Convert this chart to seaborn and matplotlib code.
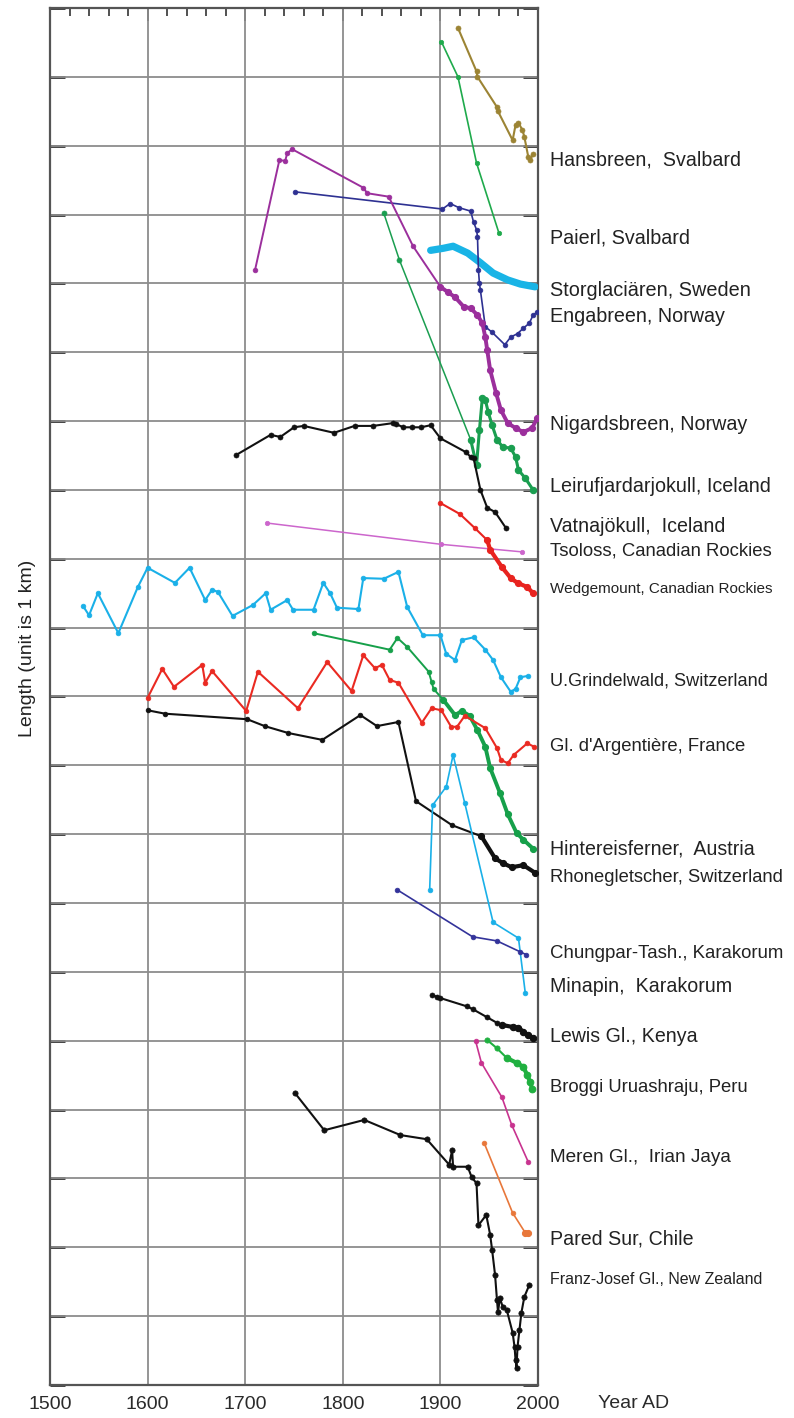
import matplotlib
matplotlib.use("Agg")
import matplotlib.pyplot as plt
import seaborn as sns
import pandas as pd
from matplotlib.ticker import MultipleLocator

# ---------------- data (year AD, length in km, stacked offsets) ----------------
hansbreen_yr = [1918, 1937, 1938, 1958, 1959, 1974, 1977, 1980, 1984, 1986, 1990, 1992, 1995]
hansbreen_km = [19.71, 19.08, 19.00, 18.56, 18.50, 18.08, 18.30, 18.33, 18.23, 18.13, 17.84, 17.79, 17.88]

paierl_yr = [1901, 1918, 1937, 1960]
paierl_km = [19.51, 19.00, 17.75, 16.73]

storglac_yr = [1890, 1903, 1913, 1928, 1941, 1954, 1969, 1982, 1997]
storglac_km = [16.48, 16.51, 16.54, 16.44, 16.30, 16.15, 16.05, 15.99, 15.95]

engabreen_yr = [1751, 1902, 1910, 1919, 1931, 1934, 1937, 1938, 1939, 1940, 1941, 1946, 1953,
                1966, 1972, 1979, 1985, 1991, 1995, 1999]
engabreen_km = [17.33, 17.08, 17.16, 17.10, 17.05, 16.89, 16.78, 16.68, 16.19, 16.00, 15.90, 15.37,
                15.29, 15.11, 15.22, 15.27, 15.35, 15.42, 15.54, 15.58]

nigards_yr = [1710, 1735, 1741, 1743, 1748, 1821, 1825, 1847, 1872, 1900, 1908, 1915, 1924, 1931,
              1938, 1943, 1946, 1948, 1951, 1957, 1962, 1969, 1977, 1985, 1994, 1999]
nigards_km = [16.19, 17.79, 17.78, 17.89, 17.95, 17.39, 17.31, 17.26, 16.54, 15.95, 15.87, 15.80,
              15.66, 15.64, 15.54, 15.42, 15.22, 15.03, 14.74, 14.41, 14.16, 13.97, 13.90, 13.84,
              13.90, 14.04]

leiru_yr = [1842, 1858, 1931, 1937, 1940, 1943, 1946, 1949, 1953, 1958, 1964, 1972, 1977, 1980, 1987, 1995]
leiru_km = [17.02, 16.34, 13.73, 13.36, 13.87, 14.34, 14.31, 14.13, 13.94, 13.73, 13.62, 13.61,
            13.48, 13.29, 13.17, 13.00]

vatna_yr = [1691, 1726, 1736, 1750, 1760, 1791, 1812, 1831, 1851, 1854, 1862, 1871, 1880, 1890,
            1900, 1926, 1931, 1934, 1941, 1948, 1956, 1967]
vatna_km = [13.51, 13.80, 13.77, 13.91, 13.93, 13.83, 13.93, 13.93, 13.97, 13.96, 13.91, 13.91,
            13.91, 13.94, 13.75, 13.55, 13.48, 13.46, 13.00, 12.74, 12.68, 12.45]

tsoloss_yr = [1722, 1901, 1984]
tsoloss_km = [12.52, 12.21, 12.10]

wedge_yr = [1900, 1920, 1935, 1948, 1951, 1963, 1972, 1979, 1989, 1995]
wedge_km = [12.81, 12.65, 12.45, 12.27, 12.13, 11.88, 11.72, 11.65, 11.59, 11.50]

grindel_yr = [1534, 1540, 1549, 1570, 1590, 1600, 1628, 1643, 1659, 1666, 1672, 1687, 1708, 1721,
              1726, 1743, 1749, 1770, 1780, 1787, 1794, 1816, 1821, 1842, 1857, 1866, 1882, 1900,
              1906, 1915, 1922, 1934, 1946, 1954, 1962, 1972, 1977, 1982, 1990]
grindel_km = [11.31, 11.18, 11.50, 10.92, 11.59, 11.87, 11.65, 11.87, 11.40, 11.55, 11.52, 11.17,
              11.33, 11.50, 11.26, 11.40, 11.26, 11.26, 11.65, 11.50, 11.29, 11.27, 11.72, 11.71,
              11.81, 11.30, 10.89, 10.89, 10.62, 10.53, 10.82, 10.86, 10.68, 10.53, 10.28, 10.07,
              10.11, 10.28, 10.30]

hinter_yr = [1770, 1848, 1856, 1866, 1888, 1891, 1893, 1903, 1915, 1922, 1930, 1938, 1946, 1951,
             1961, 1969, 1978, 1985, 1995]
hinter_km = [10.92, 10.68, 10.85, 10.72, 10.36, 10.21, 10.11, 9.95, 9.73, 9.79, 9.72, 9.51, 9.27,
             8.96, 8.60, 8.29, 8.02, 7.92, 7.79]

argent_yr = [1600, 1615, 1627, 1656, 1659, 1666, 1701, 1713, 1754, 1784, 1809, 1821, 1833, 1840,
             1848, 1857, 1881, 1891, 1901, 1911, 1917, 1925, 1946, 1958, 1962, 1969, 1975, 1989, 1996]
argent_km = [9.98, 10.40, 10.14, 10.46, 10.20, 10.37, 9.79, 10.36, 9.83, 10.50, 10.08, 10.60, 10.41,
             10.46, 10.24, 10.20, 9.62, 9.83, 9.80, 9.56, 9.56, 9.72, 9.54, 9.25, 9.08, 9.03, 9.15,
             9.32, 9.27]

rhone_yr = [1600, 1618, 1702, 1720, 1744, 1779, 1818, 1835, 1857, 1875, 1912, 1942, 1956, 1964,
            1973, 1985, 1997]
rhone_km = [9.80, 9.75, 9.67, 9.57, 9.47, 9.37, 9.73, 9.57, 9.63, 8.48, 8.13, 7.97, 7.65, 7.58,
            7.52, 7.55, 7.44]

minapin_yr = [1889, 1892, 1906, 1913, 1925, 1954, 1980, 1987]
minapin_km = [7.19, 8.42, 8.69, 9.15, 8.45, 6.72, 6.49, 5.69]

chungpar_yr = [1856, 1933, 1958, 1982, 1988]
chungpar_km = [7.19, 6.51, 6.45, 6.29, 6.25]

lewis_yr = [1891, 1897, 1900, 1927, 1933, 1948, 1958, 1963, 1974, 1980, 1985, 1990, 1995]
lewis_km = [5.66, 5.64, 5.62, 5.50, 5.46, 5.34, 5.26, 5.23, 5.20, 5.19, 5.13, 5.08, 5.04]

broggi_yr = [1948, 1958, 1968, 1978, 1985, 1989, 1992, 1994]
broggi_km = [5.01, 4.89, 4.75, 4.68, 4.62, 4.50, 4.40, 4.30]

meren_yr = [1936, 1942, 1963, 1973, 1990]
meren_km = [5.00, 4.68, 4.18, 3.78, 3.24]

pared_yr = [1945, 1974, 1987, 1990]
pared_km = [3.51, 2.50, 2.21, 2.21]

franz_yr = [1751, 1781, 1822, 1859, 1886, 1909, 1912, 1913, 1928, 1932, 1937, 1939, 1947, 1951,
            1953, 1956, 1958, 1959, 1961, 1964, 1968, 1974, 1976, 1977, 1978, 1979, 1981, 1983,
            1986, 1991]
franz_km = [4.24, 3.70, 3.85, 3.63, 3.57, 3.20, 3.41, 3.17, 3.17, 3.02, 2.93, 2.32, 2.47, 2.18,
            1.96, 1.60, 1.23, 1.06, 1.26, 1.13, 1.09, 0.76, 0.55, 0.36, 0.25, 0.55, 0.80, 1.05,
            1.28, 1.45]

x_ticks = [1500, 1600, 1700, 1800, 1900, 2000]

# label text and vertical pixel position of each label on the right
label_texts = ["Hansbreen,  Svalbard", "Paierl, Svalbard", "Storglaciären, Sweden",
               "Engabreen, Norway", "Nigardsbreen, Norway", "Leirufjardarjokull, Iceland",
               "Vatnajökull,  Iceland", "Tsoloss, Canadian Rockies",
               "Wedgemount, Canadian Rockies", "U.Grindelwald, Switzerland",
               "Gl. d'Argentière, France", "Hintereisferner,  Austria",
               "Rhonegletscher, Switzerland", "Chungpar-Tash., Karakorum",
               "Minapin,  Karakorum", "Lewis Gl., Kenya", "Broggi Uruashraju, Peru",
               "Meren Gl.,  Irian Jaya", "Pared Sur, Chile", "Franz-Josef Gl., New Zealand"]
label_sizes = [14.1, 14.2, 14.3, 14.2, 14.2, 14.2, 14.1, 13.3, 11.0, 13.1,
               13.3, 14.1, 13.2, 13.4, 14.1, 14.1, 13.3, 13.7, 14.1, 11.5]
label_py = [160, 238, 291, 316, 425, 486, 526, 551, 589, 681, 747, 849, 878, 953, 987, 1037,
            1088, 1158, 1239, 1280]

# ---------------- style table ----------------
series = [
    (hansbreen_yr, hansbreen_km, "#9c8434", 1.5, 3.6, None),
    (paierl_yr, paierl_km, "#1faa4c", 1.2, 3.2, None),
    (storglac_yr, storglac_km, "#19b4e6", 5.2, 0, None),
    (engabreen_yr, engabreen_km, "#2e3192", 1.2, 3.4, None),
    (nigards_yr, nigards_km, "#9b2f9c", 1.4, 3.4, 1890),
    (leiru_yr, leiru_km, "#1a9e50", 1.1, 3.6, 1931),
    (vatna_yr, vatna_km, "#111111", 1.5, 3.6, None),
    (tsoloss_yr, tsoloss_km, "#cc66cc", 1.1, 3.2, None),
    (wedge_yr, wedge_km, "#e8231f", 1.5, 3.4, 1945),
    (grindel_yr, grindel_km, "#1ab0e8", 1.5, 3.4, None),
    (hinter_yr, hinter_km, "#16a04a", 1.4, 3.4, 1900),
    (argent_yr, argent_km, "#ea2a22", 1.5, 3.4, None),
    (rhone_yr, rhone_km, "#111111", 1.5, 3.4, 1940),
    (minapin_yr, minapin_km, "#1ab0e8", 1.2, 3.4, None),
    (chungpar_yr, chungpar_km, "#33339a", 1.2, 3.4, None),
    (lewis_yr, lewis_km, "#111111", 1.5, 3.6, 1960),
    (broggi_yr, broggi_km, "#20b040", 1.5, 3.8, 1960),
    (meren_yr, meren_km, "#c8338f", 1.2, 3.4, None),
    (pared_yr, pared_km, "#e8773a", 1.2, 3.4, 1985),
    (franz_yr, franz_km, "#111111", 1.5, 3.8, None),
]

# ---------------- figure ----------------
sns.set_style("white")
plt.rcParams["font.family"] = ["Liberation Sans", "DejaVu Sans"]

W, H = 794, 1418
fig = plt.figure(figsize=(W / 100, H / 100), dpi=100)
ax = fig.add_axes([50 / W, 33 / H, 488 / W, 1377 / H])

for yr, km, col, lw, ms, thick_from in series:
    df = pd.DataFrame({"year": yr, "km": km})
    sns.lineplot(data=df, x="year", y="km", ax=ax, color=col, linewidth=lw,
                 marker="o" if ms > 0 else None, markersize=ms,
                 markeredgecolor=col, markeredgewidth=0.5,
                 sort=False, estimator=None, zorder=3)
    if thick_from is not None:
        sub = df[df["year"] >= thick_from]
        sns.lineplot(data=sub, x="year", y="km", ax=ax, color=col, linewidth=lw * 2.0,
                     marker="o", markersize=ms + 1.0, markeredgecolor=col,
                     sort=False, estimator=None, zorder=3)

ax.set_xlim(1500, 2000)
ax.set_ylim(0, 20)

# grid
for y in range(1, 20):
    ax.axhline(y, color="#8c8c8c", lw=1.3, zorder=1)
for x in x_ticks[1:-1]:
    ax.axvline(x, color="#8c8c8c", lw=1.3, zorder=1)

ax.set_xticks(x_ticks)
ax.set_xticklabels([str(t) for t in x_ticks], fontsize=14, color="#2a2a2a")
ax.xaxis.set_minor_locator(MultipleLocator(20))
ax.set_yticks(range(0, 21))
ax.set_yticklabels([])
ax.tick_params(axis="x", which="major", direction="in", top=True, length=9, width=1.3,
               color="#333333", pad=8)
ax.tick_params(axis="x", which="minor", direction="in", top=True, length=6, width=1.2,
               color="#333333")
ax.tick_params(axis="y", which="major", direction="in", left=True, right=True, length=11,
               width=2, color="#333333")
for s in ax.spines.values():
    s.set_color("#555555")
    s.set_linewidth(1.6)
ax.set_xlabel("")
ax.set_ylabel("")

# labels
for txt, fs, py in zip(label_texts, label_sizes, label_py):
    fig.text(550 / W, 1 - py / H, txt, fontsize=fs, va="center", ha="left", color="#222222")

fig.text(598 / W, 1 - 1403 / H, "Year AD", fontsize=14, va="center", ha="left", color="#2a2a2a")
fig.text(28 / W, 1 - 648 / H, "Length (unit is 1 km)", fontsize=14, rotation=90,
         va="center", ha="center", color="#222222")

fig.savefig("out.png", dpi=100)
